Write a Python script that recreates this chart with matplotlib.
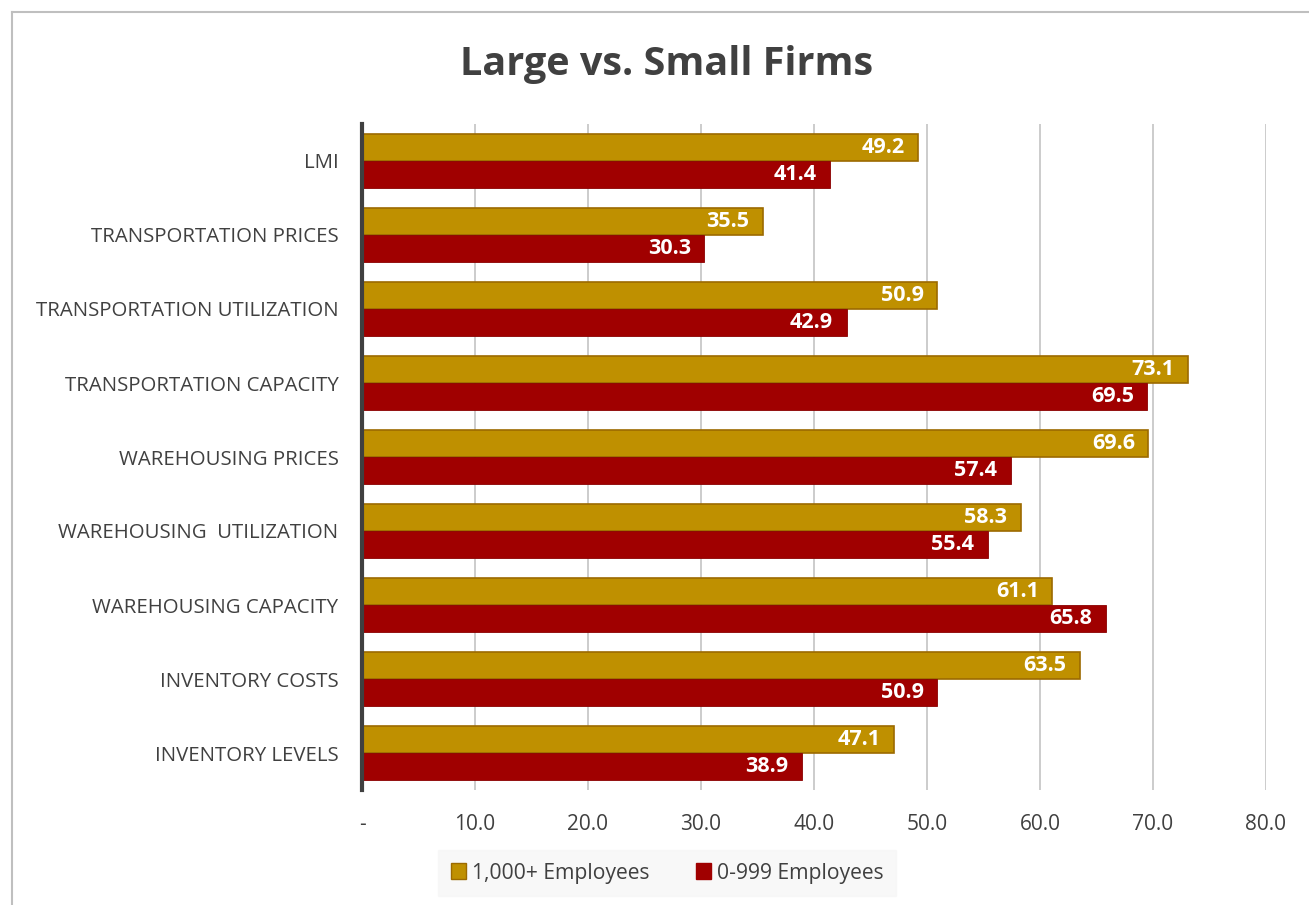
import matplotlib.pyplot as plt
import numpy as np
from matplotlib.lines import Line2D
from matplotlib.patches import Patch

# Daten
categories = ['LMI', 'TRANSPORTATION PRICES', 'TRANSPORTATION UTILIZATION',
              'TRANSPORTATION CAPACITY', 'WAREHOUSING PRICES',
              'WAREHOUSING  UTILIZATION', 'WAREHOUSING CAPACITY',
              'INVENTORY COSTS', 'INVENTORY LEVELS']
large_firms = [49.2, 35.5, 50.9, 73.1, 69.6, 58.3, 61.1, 63.5, 47.1]
small_firms = [41.4, 30.3, 42.9, 69.5, 57.4, 55.4, 65.8, 50.9, 38.9]
xticks = [0, 10, 20, 30, 40, 50, 60, 70, 80]
xtick_labels = ['-'] + ['%.1f' % t for t in xticks[1:]]

gold = '#BF9000'
gold_edge = '#9C6A00'
red = '#A00000'
text_grey = '#404040'
font = 'Open Sans'

fig = plt.figure(figsize=(13.09, 9.05), dpi=100)
ax = fig.add_axes([362 / 1309, 1 - 790 / 905, (1266 - 362) / 1309, (790 - 124) / 905])

y = np.arange(len(categories))
h = 0.37
b1 = ax.barh(y - h / 2, large_firms, height=h, color=gold, edgecolor=gold_edge, linewidth=1.2, zorder=3)
b2 = ax.barh(y + h / 2, small_firms, height=h, color=red, edgecolor='#8a0000', linewidth=0.6, zorder=3)

# Werte in die Balken schreiben
for bars in (b1, b2):
    for bar in bars:
        v = bar.get_width()
        ax.text(v - 1.2, bar.get_y() + bar.get_height() / 2, '%.1f' % v,
                ha='right', va='center', color='white', fontsize=15.5,
                fontweight='bold', family=font, zorder=4)

ax.set_ylim(len(categories) - 0.5, -0.5)
ax.set_xlim(0, 80)
ax.set_yticks(y)
ax.set_yticklabels(categories, fontsize=14.7, color=text_grey, family=font)
ax.set_xticks(xticks)
ax.set_xticklabels(xtick_labels, fontsize=15, color=text_grey, family=font)
ax.tick_params(axis='both', length=0)
ax.tick_params(axis='y', pad=17)
ax.tick_params(axis='x', pad=17)

ax.grid(axis='x', color='#c4c4c4', linewidth=1.2, zorder=0)
for s in ['top', 'right', 'bottom']:
    ax.spines[s].set_visible(False)
ax.spines['left'].set_color('#404040')
ax.spines['left'].set_linewidth(3)
ax.spines['left'].set_zorder(5)

# Titel
fig.text(667 / 1309, 1 - 65 / 905, 'Large vs. Small Firms', ha='center', va='center',
         fontsize=28.5, fontweight='bold', color=text_grey, family=font)

# Rahmen des Diagrammbereichs (nur links und oben sichtbar)
fig.add_artist(Line2D([12 / 1309, 12 / 1309], [0, 1 - 12 / 905], transform=fig.transFigure,
                      color='#bfbfbf', linewidth=1.5))
fig.add_artist(Line2D([12 / 1309, 1], [1 - 12 / 905, 1 - 12 / 905], transform=fig.transFigure,
                      color='#bfbfbf', linewidth=1.5))

# Legende
handles = [Patch(facecolor=gold, edgecolor=gold_edge, label='1,000+ Employees'),
           Patch(facecolor=red, edgecolor=red, label='0-999 Employees')]
leg = fig.legend(handles=handles, loc='center', bbox_to_anchor=(667 / 1309, 1 - 873 / 905),
                 ncol=2, frameon=True, fancybox=False, handlelength=0.75, handleheight=0.75,
                 handletextpad=0.25, columnspacing=2.2, borderpad=0.6, borderaxespad=0,
                 prop={'family': font, 'size': 15.2})
leg.get_frame().set_facecolor('#f7f7f7')
leg.get_frame().set_edgecolor('#f7f7f7')
leg.get_frame().set_boxstyle('square', pad=0.0)
for t in leg.get_texts():
    t.set_color(text_grey)

fig.savefig('out.png', dpi=100)
